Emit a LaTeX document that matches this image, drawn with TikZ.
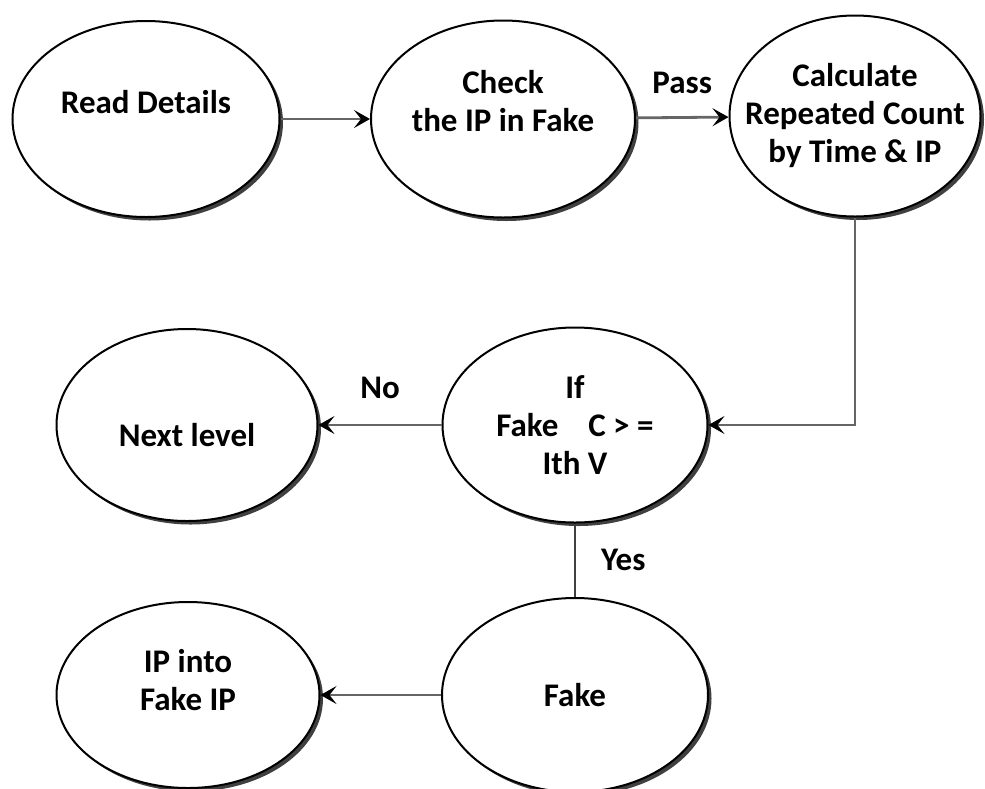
\documentclass[tikz,border=0pt]{standalone}
\usepackage{fontspec}
\setmainfont{Carlito}
\usetikzlibrary{positioning,arrows.meta,shapes.geometric,shadows}

\begin{document}
\begin{tikzpicture}[x=1pt,y=-1pt,font=\fontsize{33}{38}\selectfont\bfseries,
  oval/.style={ellipse,draw,line width=2pt,fill=white,inner sep=0pt,
    drop shadow={shadow xshift=3.5pt,shadow yshift=-3.5pt,fill=black!75,opacity=1}},
  txt/.style={align=center,inner sep=0pt},
  arr/.style={-{Stealth[length=16pt,width=18pt,inset=7pt,color=black]},line width=2.8pt,draw=black!60},
  lnk/.style={line width=2.4pt,draw=black!75}]
  \useasboundingbox (0,0) rectangle (985,788);
  % top row
  \node[oval,minimum width=267pt,minimum height=196pt,
    label={[txt,yshift=17pt]center:Read Details}] (read) at (146,119) {};
  \node[oval,minimum width=264pt,minimum height=197pt,
    label={[txt,yshift=18pt]center:Check\\the IP in Fake}] (check) at (503,119) {};
  \node[oval,minimum width=251pt,minimum height=201pt,
    label={[txt]center:Calculate\\Repeated Count\\by Time \& IP}] (calc) at (855,116) {};
  % middle row
  \node[oval,minimum width=265pt,minimum height=195pt,
    label={[txt]center:If\\Fake\ \ \ \ C > =\\Ith V}] (cond) at (575,425) {};
  \node[oval,minimum width=261pt,minimum height=192pt,
    label={[txt,yshift=-10pt]center:Next level}] (next) at (187,425) {};
  % bottom row
  \node[oval,minimum width=266pt,minimum height=194pt,
    label={[txt]center:Fake}] (fake) at (575,695) {};
  \node[oval,minimum width=263pt,minimum height=186pt,
    label={[txt,yshift=15pt]center:IP into\\Fake IP}] (ipf) at (188,695) {};
  % connectors
  \draw[arr] (read) -- (check);
  \draw[arr] (check) -- node[txt,above=22pt]{Pass} (calc);
  \draw[arr] (calc.south) |- (cond.east);
  \draw[arr] (cond) -- node[txt,above=25pt]{No} (next);
  \draw[lnk] (cond.south) -- node[txt,right=25pt]{Yes} (fake.north);
  \draw[arr] (fake) -- (ipf);
\end{tikzpicture}
\end{document}
